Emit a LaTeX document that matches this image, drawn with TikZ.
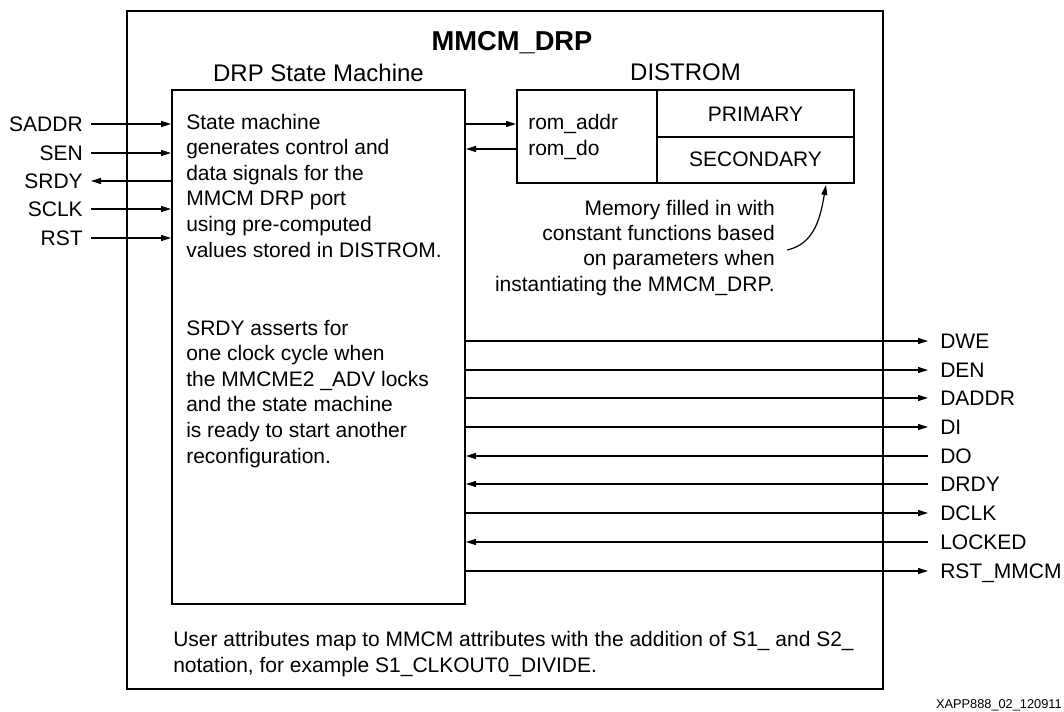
\documentclass[tikz,border=0pt]{standalone}
\usepackage{fontspec}
\setmainfont{Liberation Sans}
\usetikzlibrary{arrows.meta,fit}
\begin{document}
\begin{tikzpicture}[x=0.75pt,y=-0.75pt,
  box/.style={draw, line width=1.5pt, inner sep=0pt},
  sig/.style={line width=0.9pt, -{Triangle[length=7.5pt,width=4.5pt]}},
  body/.style={font=\fontsize{15.75pt}{19.2pt}\selectfont, inner sep=0pt},
  lbl/.style={body, text height=11.3pt, text depth=0pt},
]
\useasboundingbox (0,0) rectangle (1064,711);

% boxes
\node[box, fit={(127,11) (883,689)}] (outer) {};
\node[box, fit={(172,90) (465,604)}] (sm) {};
\node[box, fit={(517,90) (657,183)}] (romport) {};
\node[box, fit={(657,90) (854,137)}] (primary) {};
\node[box, fit={(657,137) (854,183)}] (secondary) {};
\node[lbl] (primtxt) at ([yshift=-0.5pt]primary.center) {PRIMARY};
\node[lbl] (sectxt) at ([yshift=1pt]secondary.center) {SECONDARY};

% titles
\node[font=\bfseries\fontsize{20.5pt}{24pt}\selectfont, inner sep=0pt, anchor=base] (title) at (512,50) {MMCM\_DRP};
\node[font=\fontsize{18pt}{21pt}\selectfont, inner sep=0pt, anchor=base] (smtitle) at (318.5,81) {DRP State Machine};
\node[font=\fontsize{18pt}{21pt}\selectfont, inner sep=0pt, anchor=base] (romtitle) at (685.5,80.5) {DISTROM};

% texts (base anchor = baseline of the last line)
\node[body, align=left, anchor=base west] (smtext1) at (186,257)
  {State machine\\generates control and\\data signals for the\\MMCM DRP port\\using pre-computed\\values stored in DISTROM.};
\node[body, align=left, anchor=base west] (smtext2) at (186,463)
  {SRDY asserts for\\one clock cycle when\\the MMCME2 \_ADV locks\\and the state machine\\is ready to start another\\reconfiguration.};
\node[body, align=left, anchor=base west, font=\fontsize{15.75pt}{18.9pt}\selectfont] (romtext) at (528,155) {rom\_addr\\rom\_do};
\node[body, align=right, anchor=base east, font=\fontsize{15.75pt}{18.9pt}\selectfont] (memtext) at (775,291)
  {Memory filled in with\\constant functions based\\on parameters when\\instantiating the MMCM\_DRP.};
\node[body, align=left, anchor=base west] (note) at (173,672)
  {User attributes map to MMCM attributes with the addition of S1\_ and S2\_\\notation, for example S1\_CLKOUT0\_DIVIDE.};
\node[font=\fontsize{9.6pt}{11pt}\selectfont, inner sep=0pt, anchor=base east] (fig) at (1062,708) {XAPP888\_02\_120911};

% left signals
\node[lbl, anchor=east] (saddr) at (83,124) {SADDR};
\node[lbl, anchor=east] (sen) at (83,153) {SEN};
\node[lbl, anchor=east] (srdy) at (83,181) {SRDY};
\node[lbl, anchor=east] (sclk) at (83,209) {SCLK};
\node[lbl, anchor=east] (rst) at (83,238) {RST};
\draw[sig] ([xshift=6pt]saddr.east) -- (saddr.east -| sm.west);
\draw[sig] ([xshift=6pt]sen.east) -- (sen.east -| sm.west);
\draw[sig] (srdy.east -| sm.west) -- ([xshift=6pt]srdy.east);
\draw[sig] ([xshift=6pt]sclk.east) -- (sclk.east -| sm.west);
\draw[sig] ([xshift=6pt]rst.east) -- (rst.east -| sm.west);

% rom connections
\coordinate (romdo) at (517,149);
\draw[sig] (sm.east |- saddr.east) -- (romport.west |- saddr.east);
\draw[sig] (romdo) -- (romdo -| sm.east);

% memory note arrow
\coordinate (mstart) at (787,250);
\coordinate (mend) at (826,185);
\draw[sig] (mstart) to[out=12,in=-100] (mend);

% right signals
\node[lbl, anchor=west] (dwe) at (940,341) {DWE};
\node[lbl, anchor=west] (den) at (940,370) {DEN};
\node[lbl, anchor=west] (daddr) at (940,398) {DADDR};
\node[lbl, anchor=west] (di) at (940,427) {DI};
\node[lbl, anchor=west] (do) at (940,456) {DO};
\node[lbl, anchor=west] (drdy) at (940,484) {DRDY};
\node[lbl, anchor=west] (dclk) at (940,513) {DCLK};
\node[lbl, anchor=west] (locked) at (940,542) {LOCKED};
\node[lbl, anchor=west] (rstm) at (940,571) {RST\_MMCM};
\draw[sig] (dwe.west -| sm.east) -- ([xshift=-9pt]dwe.west);
\draw[sig] (den.west -| sm.east) -- ([xshift=-9pt]den.west);
\draw[sig] (daddr.west -| sm.east) -- ([xshift=-9pt]daddr.west);
\draw[sig] (di.west -| sm.east) -- ([xshift=-9pt]di.west);
\draw[sig] ([xshift=-9pt]do.west) -- (do.west -| sm.east);
\draw[sig] ([xshift=-9pt]drdy.west) -- (drdy.west -| sm.east);
\draw[sig] (dclk.west -| sm.east) -- ([xshift=-9pt]dclk.west);
\draw[sig] ([xshift=-9pt]locked.west) -- (locked.west -| sm.east);
\draw[sig] (rstm.west -| sm.east) -- ([xshift=-9pt]rstm.west);
\end{tikzpicture}
\end{document}
